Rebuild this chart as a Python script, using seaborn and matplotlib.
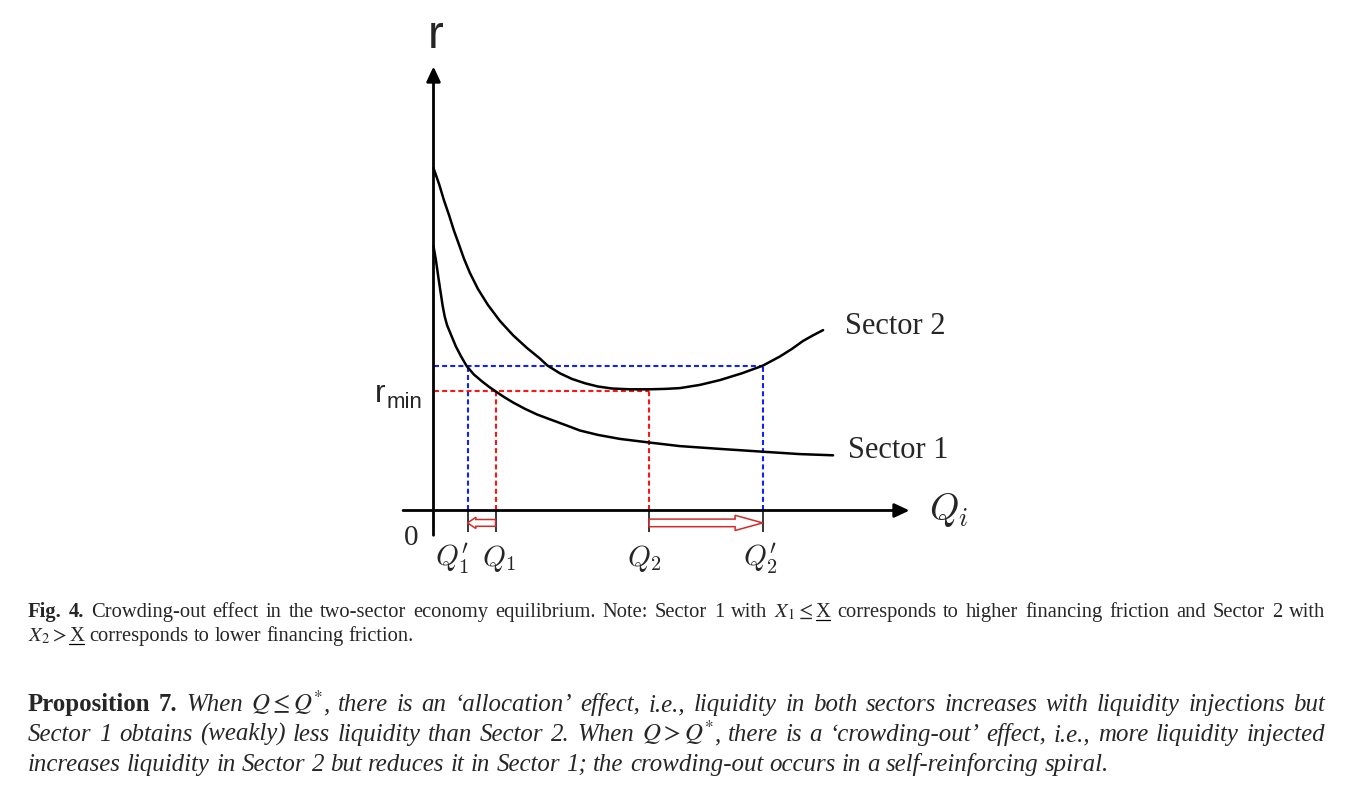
"""Crowding-out effect in the two-sector economy: r against Q_i, with caption text."""

import matplotlib

matplotlib.use("Agg")

import matplotlib.pyplot as plt
import matplotlib.transforms as mtransforms
import pandas as pd
import seaborn as sns
from matplotlib.lines import Line2D
from matplotlib.patches import FancyArrow

# ---- diagram data (arbitrary units, origin at the axes corner) ----
sector1_q = [0.00, 0.06, 0.12, 0.18, 0.23, 0.28, 0.34, 0.46, 0.56, 0.69,
             0.83, 1.01, 1.21, 1.39, 1.55, 1.76, 1.99, 2.29, 2.59, 2.91,
             3.29, 3.66, 4.11, 4.66, 5.39, 6.16, 7.16, 8.23, 9.16, 9.99]
sector1_r = [6.61, 6.26, 5.84, 5.44, 5.11, 4.85, 4.63, 4.34, 4.10, 3.85,
             3.61, 3.40, 3.23, 3.09, 2.98, 2.84, 2.70, 2.54, 2.40, 2.28,
             2.14, 2.00, 1.89, 1.79, 1.70, 1.61, 1.54, 1.47, 1.41, 1.38]

sector2_q = [0.00, 0.14, 0.26, 0.39, 0.51, 0.64, 0.76, 0.91, 1.11, 1.36,
             1.66, 1.99, 2.34, 2.66, 2.84, 3.16, 3.46, 3.79, 4.11, 4.46,
             4.91, 5.39, 5.79, 6.16, 6.66, 7.16, 7.71, 8.23, 8.66, 8.96,
             9.24, 9.49, 9.74]
sector2_r = [8.56, 8.16, 7.76, 7.38, 7.00, 6.64, 6.30, 5.94, 5.54, 5.14,
             4.74, 4.38, 4.06, 3.80, 3.63, 3.43, 3.29, 3.18, 3.10, 3.05,
             3.03, 3.03, 3.04, 3.06, 3.14, 3.26, 3.43, 3.62, 3.85, 4.04,
             4.24, 4.38, 4.51]

q_prime1, q1, q2, q_prime2 = 0.85, 1.55, 5.39, 8.23
q_ticks = [q_prime1, q1, q2, q_prime2]
q_tick_labels = [r"$Q_1^{\prime}$", r"$Q_1$", r"$Q_2$", r"$Q_2^{\prime}$"]
r_min = 2.99
r_high = 3.62
sector_names = ["Sector 1", "Sector 2"]

# ---- caption text ----
caption_1 = "Crowding-out effect in the two-sector economy equilibrium. Note: Sector 1 with"
caption_1b = "corresponds to higher financing friction and Sector 2 with"
caption_2 = "corresponds to lower financing friction."
prop_1 = ("there is an ‘allocation’ effect, i.e., liquidity in both sectors "
          "increases with liquidity injections but")
prop_2a = "Sector 1 obtains (weakly) less liquidity than Sector 2. When"
prop_2b = "there is a ‘crowding-out’ effect, i.e., more liquidity injected"
prop_3 = ("increases liquidity in Sector 2 but reduces it in Sector 1; "
          "the crowding-out occurs in a self-reinforcing spiral.")

W, H, DPI = 1361, 798, 100
UNIT = 40.0
ORIGIN_X, ORIGIN_Y = 433.5, 510.5
BLUE = "#1020ff"
RED = "#ff1414"
ARROW_RED = "#d42a2a"

sns.set_theme(style="white")
plt.rcParams["font.family"] = ["Liberation Serif", "DejaVu Serif"]
plt.rcParams["mathtext.fontset"] = "cm"

fig = plt.figure(figsize=(W / DPI, H / DPI), dpi=DPI)
fig.patch.set_facecolor("white")
ax = fig.add_axes([0, 0, 1, 1])
ax.set_xlim(-ORIGIN_X / UNIT, (W - ORIGIN_X) / UNIT)
ax.set_ylim(-(H - ORIGIN_Y) / UNIT, ORIGIN_Y / UNIT)
ax.set_axis_off()

# curves
curves = pd.concat([
    pd.DataFrame({"Q": sector1_q, "r": sector1_r, "sector": sector_names[0]}),
    pd.DataFrame({"Q": sector2_q, "r": sector2_r, "sector": sector_names[1]}),
])
sns.lineplot(data=curves, x="Q", y="r", hue="sector",
             palette={name: "black" for name in sector_names},
             estimator=None, sort=False, lw=1.8, legend=False, ax=ax, zorder=3)

# dashed guide lines
dash = dict(lw=1.5, linestyle=(0, (2.4, 1.5)), zorder=2)
ax.plot([0, q_prime2], [r_high, r_high], color=BLUE, **dash)
ax.plot([q_prime1, q_prime1], [0, r_high], color=BLUE, **dash)
ax.plot([q_prime2, q_prime2], [0, r_high], color=BLUE, **dash)
ax.plot([0, q2], [r_min, r_min], color=RED, **dash)
ax.plot([q1, q1], [0, r_min], color=RED, **dash)
ax.plot([q2, q2], [0, r_min], color=RED, **dash)

# axes with arrow heads
arrow_kw = dict(arrowstyle="-|>,head_length=0.9,head_width=0.42", mutation_scale=10,
                lw=2.0, color="black", shrinkA=0, shrinkB=0)
ax.annotate("", xy=(0, 11.1), xytext=(0, -0.62), arrowprops=arrow_kw)
ax.annotate("", xy=(11.9, 0), xytext=(-0.76, 0), arrowprops=arrow_kw)
ax.vlines(q_ticks, -0.53, 0, colors="black", lw=1.1, zorder=3)

# hollow shift arrows
ax.add_patch(FancyArrow(q1, -0.31, q_prime1 - q1, 0, width=0.17, head_width=0.28,
                        head_length=0.21, length_includes_head=True,
                        fc="white", ec=ARROW_RED, lw=1.1, zorder=4))
ax.add_patch(FancyArrow(q2, -0.31, q_prime2 - q2, 0, width=0.19, head_width=0.38,
                        head_length=0.69, length_includes_head=True,
                        fc="white", ec=ARROW_RED, lw=1.1, zorder=4))

# axis labels
ax.text(0.05, 11.56, "r", family="Liberation Sans", fontsize=34,
        ha="center", va="baseline")
ax.text(-1.21, 2.72, "r", family="Liberation Sans", fontsize=23,
        ha="right", va="baseline")
ax.text(-1.17, 2.555, "min", family="Liberation Sans", fontsize=16,
        ha="left", va="baseline")
ax.text(-0.56, -0.86, "0", fontsize=21, ha="center", va="baseline")
ax.text(12.89, -0.24, r"$Q_i$", fontsize=27, ha="center", va="baseline")
label_shift = [-0.39, 0.09, -0.13, -0.07]
for q, lab, dx in zip(q_ticks, q_tick_labels, label_shift):
    ax.text(q + dx, -1.39, lab, fontsize=21, ha="center", va="baseline")
ax.text(10.29, 4.40, sector_names[1], fontsize=22, ha="left", va="baseline")
ax.text(10.36, 1.31, sector_names[0], fontsize=22, ha="left", va="baseline")

# ---- justified caption / proposition text ----
PIX = mtransforms.IdentityTransform()
renderer = fig.canvas.get_renderer()
TEXT_STYLES = {"n": {}, "b": {"fontweight": "bold"}, "i": {"fontstyle": "italic"}, "u": {}}


def split_words(text, style):
    return [[(w, style, 0.0)] for w in text.split()]


def em(size):
    return size * DPI / 72.0


def make_texts(words, size):
    made = []
    for word in words:
        made.append([(fig.text(0, 0, s, transform=PIX, fontsize=size, ha="left",
                               va="baseline", math_fontfamily="stix",
                               **TEXT_STYLES[style]), style, pad)
                     for s, style, pad in word])
    return made


def word_width(segs, size):
    return sum(t.get_window_extent(renderer).width + pad * em(size) for t, _, pad in segs)


def natural_width(words, size):
    made = make_texts(words, size)
    total = sum(word_width(s, size) for s in made) + 0.25 * em(size) * (len(made) - 1)
    for segs in made:
        for t, _, _ in segs:
            t.remove()
    return total


def place_line(words, size, baseline, x_left=28.0, x_right=None):
    made = make_texts(words, size)
    widths = [word_width(s, size) for s in made]
    if x_right is None:
        gap = 0.25 * em(size)
    else:
        gap = (x_right - x_left - sum(widths)) / (len(made) - 1)
    x = x_left
    y = H - baseline
    for segs, w in zip(made, widths):
        cx = x
        for t, style, pad in segs:
            cx += pad * em(size)
            t.set_position((cx, y))
            tw = t.get_window_extent(renderer).width
            if style == "u":
                fig.add_artist(Line2D([cx, cx + tw], [y - 0.17 * em(size)] * 2,
                                      transform=PIX, color="black", lw=0.9))
            cx += tw
        x += w + gap


cap_line1 = (split_words("Fig. 4.", "b") + split_words(caption_1, "n")
             + [[(r"$X_1\leq$", "n", 0.0), ("X", "u", 0.12)]]
             + split_words(caption_1b, "n"))
cap_line2 = ([[(r"$X_2>$", "n", 0.0), ("X", "u", 0.12)]]
             + split_words(caption_2, "n"))
prop_line1 = (split_words("Proposition 7.", "b") + split_words("When", "i")
              + [[(r"$Q\leq Q^{*}$", "i", 0.0), (",", "i", 0.0)]]
              + split_words(prop_1, "i"))
prop_line2 = (split_words(prop_2a, "i")
              + [[(r"$Q>Q^{*}$", "i", 0.0), (",", "i", 0.0)]]
              + split_words(prop_2b, "i"))
prop_line3 = split_words(prop_3, "i")

cap_size = 10 * (1325 - 28) * 0.975 / natural_width(cap_line1, 10)
prop_size = 10 * (1112 - 28) / natural_width(prop_line3, 10)

place_line(cap_line1, cap_size, 617, x_right=1325)
place_line(cap_line2, cap_size, 641)
place_line(prop_line1, prop_size, 711, x_right=1325)
place_line(prop_line2, prop_size, 741, x_right=1325)
place_line(prop_line3, prop_size, 771)

fig.savefig("out.png", dpi=DPI, facecolor="white")
plt.close(fig)
